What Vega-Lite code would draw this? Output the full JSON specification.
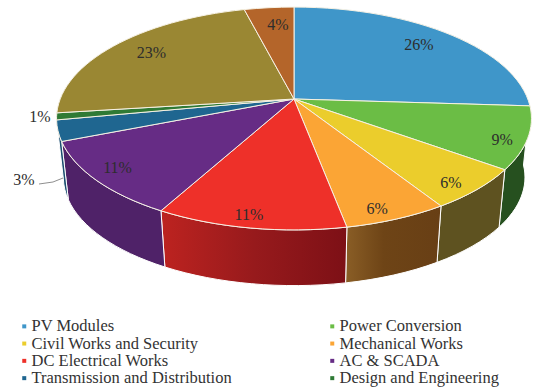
{
  "$schema": "https://vega.github.io/schema/vega-lite/v6.json",
  "width": 533,
  "height": 389,
  "padding": 0,
  "autosize": "none",
  "background": "white",
  "config": {"view": {"stroke": null}},
  "data": {"values": [
    {"idx": 1, "slice": "PV Modules", "share": 26},
    {"idx": 2, "slice": "Power Conversion", "share": 9},
    {"idx": 3, "slice": "Civil Works and Security", "share": 6},
    {"idx": 4, "slice": "Mechanical Works", "share": 6},
    {"idx": 5, "slice": "DC Electrical Works", "share": 11},
    {"idx": 6, "slice": "AC & SCADA", "share": 11},
    {"idx": 7, "slice": "Transmission and Distribution", "share": 3},
    {"idx": 8, "slice": "Design and Engineering", "share": 1},
    {"idx": 9, "slice": "Other A", "share": 23},
    {"idx": 10, "slice": "Other B", "share": 4}
  ]},
  "transform": [
    {"window": [{"op": "sum", "field": "share", "as": "cum"}], "sort": [{"field": "idx"}], "frame": [null, 0]},
    {"calculate": "(datum.cum - datum.share) * PI / 50", "as": "a0"},
    {"calculate": "datum.cum * PI / 50", "as": "a1"},
    {"calculate": "(datum.a0 + datum.a1) / 2", "as": "am"},
    {"calculate": "233.8 * sin(datum.a0) / (1 + 0.175 * cos(datum.a0))", "as": "x0"},
    {"calculate": "-108 * cos(datum.a0) / (1 + 0.175 * cos(datum.a0))", "as": "y0"},
    {"calculate": "233.8 * sin(datum.a1) / (1 + 0.175 * cos(datum.a1))", "as": "x1"},
    {"calculate": "-108 * cos(datum.a1) / (1 + 0.175 * cos(datum.a1))", "as": "y1"},
    {"calculate": "atan2(datum.x0 / 237.5, (19.5 - datum.y0) / 111.4)", "as": "t0"},
    {"calculate": "atan2(datum.x1 / 237.5, (19.5 - datum.y1) / 111.4)", "as": "t1"},
    {"calculate": "(4 / 3) * tan((datum.t1 - datum.t0 + (datum.t1 < datum.t0 ? 2 * PI : 0)) / 4)", "as": "k"},
    {"calculate": "datum.x0 + datum.k * 237.5 * cos(datum.t0)", "as": "c1x"},
    {"calculate": "datum.y0 + datum.k * 111.4 * sin(datum.t0)", "as": "c1y"},
    {"calculate": "datum.x1 - datum.k * 237.5 * cos(datum.t1)", "as": "c2x"},
    {"calculate": "datum.y1 - datum.k * 111.4 * sin(datum.t1)", "as": "c2y"},
    {"calculate": "round(datum.x0 * 100) / 100 + ',' + round(datum.y0 * 100) / 100", "as": "p0"},
    {"calculate": "'C' + round(datum.c1x * 100) / 100 + ',' + round(datum.c1y * 100) / 100 + ',' + round(datum.c2x * 100) / 100 + ',' + round(datum.c2y * 100) / 100 + ',' + round(datum.x1 * 100) / 100 + ',' + round(datum.y1 * 100) / 100", "as": "rim"},
    {"calculate": "'M0,0L' + datum.p0 + datum.rim + 'Z'", "as": "topPath"},
    {"calculate": "'M' + datum.p0 + datum.rim + 'L' + round((datum.x1 + (6 - datum.x1) * 0.028) * 100) / 100 + ',' + round((datum.y1 + (2120 - datum.y1) * 0.028) * 100) / 100 + 'C' + round((datum.c2x + (6 - datum.c2x) * 0.028) * 100) / 100 + ',' + round((datum.c2y + (2120 - datum.c2y) * 0.028) * 100) / 100 + ',' + round((datum.c1x + (6 - datum.c1x) * 0.028) * 100) / 100 + ',' + round((datum.c1y + (2120 - datum.c1y) * 0.028) * 100) / 100 + ',' + round((datum.x0 + (6 - datum.x0) * 0.028) * 100) / 100 + ',' + round((datum.y0 + (2120 - datum.y0) * 0.028) * 100) / 100 + 'Z'", "as": "wallPath"},
    {"calculate": "[0.82, 0.89, 0.855, 0.81, 1.02, 0.89, 1.144, 1.07, 0.81, 0.64][datum.idx - 1]", "as": "reachX"},
    {"calculate": "[0.82, 1.05, 0.93, 0.92, 0.9, 0.85, 2.555, 1.04, 0.83, 0.81][datum.idx - 1]", "as": "reachY"},
    {"calculate": "datum.reachX * 233.8 * sin(datum.am) / (1 + 0.175 * cos(datum.am))", "as": "lx"},
    {"calculate": "datum.reachY * -108 * cos(datum.am) / (1 + 0.175 * cos(datum.am))", "as": "ly"},
    {"calculate": "datum.share + '%'", "as": "label"}
  ],
  "layer": [
    {
      "transform": [{"filter": "datum.slice === 'Power Conversion'"}],
      "mark": {"type": "point", "filled": true, "opacity": 1, "size": 4, "fill": "#26501f", "stroke": "#ffffff", "strokeWidth": 1},
      "encoding": {
        "x": {"datum": 0, "type": "quantitative", "axis": null, "scale": {"domain": [-294, 239], "nice": false, "zero": false}},
        "y": {"datum": 0, "type": "quantitative", "axis": null, "scale": {"domain": [-99, 290], "reverse": true, "nice": false, "zero": false}},
        "shape": {"field": "wallPath", "type": "nominal", "scale": null, "legend": null}
      }
    },
    {
      "transform": [{"filter": "datum.slice === 'Civil Works and Security'"}],
      "mark": {"type": "point", "filled": true, "opacity": 1, "size": 4, "fill": "#5e5220", "stroke": "#ffffff", "strokeWidth": 1},
      "encoding": {
        "x": {"datum": 0, "type": "quantitative"},
        "y": {"datum": 0, "type": "quantitative"},
        "shape": {"field": "wallPath", "type": "nominal", "scale": null, "legend": null}
      }
    },
    {
      "transform": [{"filter": "datum.slice === 'Mechanical Works'"}],
      "mark": {"type": "point", "filled": true, "opacity": 1, "size": 4, "stroke": "#ffffff", "strokeWidth": 1,
        "fill": {"gradient": "linear", "x1": 0, "y1": 0, "x2": 1, "y2": 0, "stops": [{"offset": 0, "color": "#8a5e26"}, {"offset": 0.4, "color": "#6e4416"}, {"offset": 1, "color": "#683f15"}]}},
      "encoding": {
        "x": {"datum": 0, "type": "quantitative"},
        "y": {"datum": 0, "type": "quantitative"},
        "shape": {"field": "wallPath", "type": "nominal", "scale": null, "legend": null}
      }
    },
    {
      "transform": [{"filter": "datum.slice === 'DC Electrical Works'"}],
      "mark": {"type": "point", "filled": true, "opacity": 1, "size": 4, "stroke": "#ffffff", "strokeWidth": 1,
        "fill": {"gradient": "linear", "x1": 0, "y1": 0, "x2": 1, "y2": 0, "stops": [{"offset": 0, "color": "#bd2320"}, {"offset": 0.5, "color": "#971a1c"}, {"offset": 1, "color": "#7d1016"}]}},
      "encoding": {
        "x": {"datum": 0, "type": "quantitative"},
        "y": {"datum": 0, "type": "quantitative"},
        "shape": {"field": "wallPath", "type": "nominal", "scale": null, "legend": null}
      }
    },
    {
      "transform": [{"filter": "datum.slice === 'AC & SCADA'"}],
      "mark": {"type": "point", "filled": true, "opacity": 1, "size": 4, "fill": "#4f2268", "stroke": "#ffffff", "strokeWidth": 1},
      "encoding": {
        "x": {"datum": 0, "type": "quantitative"},
        "y": {"datum": 0, "type": "quantitative"},
        "shape": {"field": "wallPath", "type": "nominal", "scale": null, "legend": null}
      }
    },
    {
      "transform": [{"filter": "datum.slice === 'Transmission and Distribution'"}],
      "mark": {"type": "point", "filled": true, "opacity": 1, "size": 4, "fill": "#1c4f70", "stroke": "#ffffff", "strokeWidth": 1},
      "encoding": {
        "x": {"datum": 0, "type": "quantitative"},
        "y": {"datum": 0, "type": "quantitative"},
        "shape": {"field": "wallPath", "type": "nominal", "scale": null, "legend": null}
      }
    },
    {
      "mark": {"type": "point", "filled": true, "opacity": 1, "size": 4, "stroke": "#f6f1e4", "strokeWidth": 1},
      "encoding": {
        "x": {"datum": 0, "type": "quantitative"},
        "y": {"datum": 0, "type": "quantitative"},
        "shape": {"field": "topPath", "type": "nominal", "scale": null, "legend": null},
        "fill": {
          "field": "slice",
          "type": "nominal",
          "scale": {
            "domain": ["PV Modules", "Power Conversion", "Civil Works and Security", "Mechanical Works", "DC Electrical Works", "AC & SCADA", "Transmission and Distribution", "Design and Engineering", "Other A", "Other B"],
            "range": ["#3f96c9", "#6bbd45", "#ebcd2c", "#fba535", "#ee3029", "#662c85", "#1f6690", "#2f7a35", "#9a8733", "#b4652a"]
          },
          "legend": {
            "values": ["PV Modules", "Power Conversion", "Civil Works and Security", "Mechanical Works", "DC Electrical Works", "AC & SCADA", "Transmission and Distribution", "Design and Engineering"],
            "title": null,
            "orient": "none",
            "direction": "horizontal",
            "legendX": 16,
            "legendY": 318,
            "columns": 2,
            "columnPadding": 92,
            "rowPadding": 0.3,
            "symbolType": "square",
            "symbolSize": 16,
            "symbolStrokeWidth": 0,
            "labelFont": "Liberation Serif",
            "labelFontSize": 16.5,
            "labelColor": "#333333",
            "labelLimit": 300,
            "labelOffset": -1
          }
        }
      }
    },
    {
      "transform": [{"filter": "datum.slice === 'Transmission and Distribution'"}],
      "mark": {"type": "point", "filled": false, "opacity": 1, "size": 4, "stroke": "#8f8f8f", "strokeWidth": 1},
      "encoding": {
        "x": {"datum": 0, "type": "quantitative"},
        "y": {"datum": 0, "type": "quantitative"},
        "shape": {"value": "M-255,85L-241,83L-231,79"}
      }
    },
    {
      "mark": {"type": "text", "font": "Liberation Serif", "fontSize": 16, "color": "#2d2d2d", "align": "center", "baseline": "middle"},
      "encoding": {
        "x": {"field": "lx", "type": "quantitative"},
        "y": {"field": "ly", "type": "quantitative"},
        "text": {"field": "label", "type": "nominal"}
      }
    }
  ]
}
